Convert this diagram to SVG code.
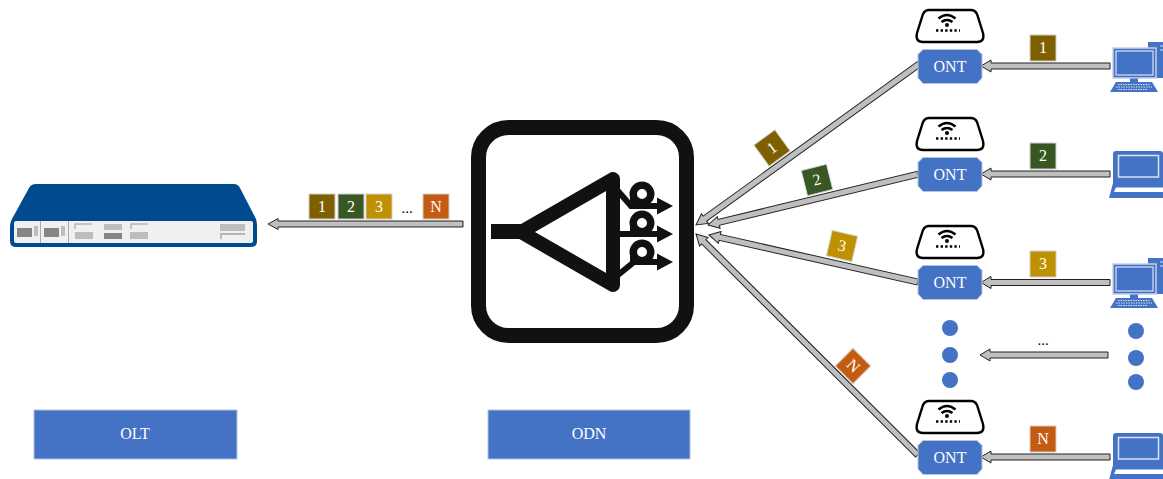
<svg xmlns="http://www.w3.org/2000/svg" width="1163" height="479" viewBox="0 0 1163 479">
<style>
text{font-family:"Liberation Serif","Times New Roman",serif;fill:#fff;text-anchor:middle}
.lab{font-size:16px}
.num{font-size:16px}
.dots{fill:#000;font-size:15px}
.box{fill:#4472c4;stroke:#b4c3e0;stroke-width:1}
.arr{fill:#bfbfbf;stroke:#222;stroke-width:1;stroke-linejoin:miter}
.sq{stroke:#d0d0d0;stroke-width:1}
.dot{fill:#4472c4}
.pc{fill:#4472c4}
.ln{fill:none;stroke:#d9e2f3;stroke-width:1.2}
.pg{fill:#bdbdbd}
.pd{fill:#858585}
.ring{fill:#fff;stroke:#111;stroke-width:7.5}
</style>
<defs>
<g id="router">
<path d="M929 10H971Q975 10 977 14L983 33Q985 42 977 42H923Q915 42 917 33L923 14Q925 10 929 10Z" fill="#fff" stroke="#000" stroke-width="2.4"/>
<path d="M938.500 18.500Q947 11.500 955.500 18.500M941.500 22Q947 18 952.500 22" fill="none" stroke="#000" stroke-width="2.600"/>
<circle cx="947" cy="25" r="2" fill="#000"/>
<path d="M936 30.500H960" fill="none" stroke="#000" stroke-width="2.600" stroke-dasharray="2.400 2.200"/>
</g>
<path id="ontbody" d="M923 49.500H977L982 54.500V78L977 83.500H923L918 78V54.500Z" fill="#4472c4" stroke="#b4c3e0" stroke-width="1"/>
<g id="desktop">
<path class="pc" d="M1148 42H1163V78H1148Z"/>
<path d="M1160 46H1163M1160 50H1163" stroke="#d9e2f3" stroke-width="1"/>
<rect x="1113" y="48" width="43" height="30" fill="#4472c4" stroke="#c5d0e6" stroke-width="1.500"/>
<rect x="1116" y="51" width="37" height="24" class="ln"/>
<rect x="1130" y="78.500" width="8" height="4" class="pc"/>
<path class="pc" d="M1116 82H1152L1158 92H1110Z"/>
<path d="M1118 84.500H1150M1116 87H1152M1118 89.500H1148" stroke="#d9e2f3" stroke-width="1" stroke-dasharray="1.500 1"/>
</g>
<g id="laptop">
<path class="pc" d="M1116 151H1160Q1163 151 1163 154V183H1113V154Q1113 151 1116 151Z"/>
<rect x="1118.500" y="155.500" width="40" height="21.500" fill="none" stroke="#d9e2f3" stroke-width="1.500"/>
<path class="pc" d="M1113 183H1163V198H1109Z"/>
<path d="M1116 187.500H1163V192H1114Z" fill="#fff"/>
</g>
</defs>

<g id="connectors">
<path class="arr" transform="translate(268 224)" d="M0 0L10-5.500V-3H195V3H10V5.500Z"/>
<path class="arr" transform="translate(696 225) rotate(-35.800)" d="M0 0L11-6V-3H275V3H11V6Z"/>
<path class="arr" transform="translate(708 225) rotate(-13.600)" d="M0 0L11-6V-3H216V3H11V6Z"/>
<path class="arr" transform="translate(709 235) rotate(12.700)" d="M0 0L11-6V-3H214V3H11V6Z"/>
<path class="arr" transform="translate(696 234) rotate(44.900)" d="M0 0L11-6V-3H313V3H11V6Z"/>
<path class="arr" transform="translate(981 66)" d="M0 0L10-6V-3H129V3H10V6Z"/>
<path class="arr" transform="translate(981 174)" d="M0 0L10-6V-3H129V3H10V6Z"/>
<path class="arr" transform="translate(981 282.500)" d="M0 0L10-6V-3H129V3H10V6Z"/>
<path class="arr" transform="translate(980 355)" d="M0 0L10-6V-3H128V3H10V6Z"/>
<path class="arr" transform="translate(981 457)" d="M0 0L10-6V-3H129V3H10V6Z"/>
</g>

<g id="olt">
<path d="M36 184H234Q238 184 240 188L256 219Q257 222 257 226V241Q257 247 251 247H16Q10 247 10 241V226Q10 222 12 219L29 188Q31 184 36 184Z" fill="#004a8f"/>
<rect x="14" y="221" width="239" height="22" rx="2" fill="#f0f0f0"/>
<path d="M40.500 221V243M68.500 221V243" stroke="#aaa" stroke-width="1"/>
<rect x="17" y="228" width="15" height="9" class="pd"/><rect x="34" y="226" width="4" height="10" class="pg"/>
<rect x="44" y="228" width="15" height="9" class="pd"/><rect x="61" y="226" width="4" height="10" class="pg"/>
<path d="M75 229V224H92" fill="none" stroke="#b5b5b5" stroke-width="1.500"/>
<rect x="75" y="232" width="18" height="7" class="pg"/>
<rect x="104" y="224" width="18" height="6" class="pg"/><rect x="104" y="233" width="18" height="6" class="pd"/>
<path d="M131 229V224H148" fill="none" stroke="#b5b5b5" stroke-width="1.500"/>
<rect x="130" y="232" width="18" height="7" class="pg"/>
<rect x="220" y="224" width="25" height="7" class="pg"/>
<path d="M221 239V234H245" fill="none" stroke="#b5b5b5" stroke-width="1.800"/>
</g>

<g id="odn">
<rect x="478.500" y="127.500" width="208" height="208" rx="30" fill="#fff" stroke="#111" stroke-width="15"/>
<path d="M491 231.500H522" stroke="#111" stroke-width="15"/>
<path d="M521 232L613 179V285Z" fill="#fff" stroke="#111" stroke-width="14" stroke-linejoin="round"/>
<path d="M618 191L631 206H660M618 234H660M618 275L634 262H660" fill="none" stroke="#111" stroke-width="6"/>
<path d="M633 194V206M633 223V234M633 252V262" fill="none" stroke="#111" stroke-width="6"/>
<path d="M657 197.500L673 206L657 214.500ZM657 225.500L673 234L657 242.500ZM657 253.500L673 262L657 270.500Z" fill="#111"/>
<circle class="ring" cx="642" cy="194" r="8.750"/>
<circle class="ring" cx="642" cy="223" r="8.750"/>
<circle class="ring" cx="642" cy="252" r="8.750"/>
</g>

<g id="olt-label"><rect class="box" x="34" y="410" width="203" height="49"/><text class="lab" x="135" y="439">OLT</text></g>
<g id="odn-label"><rect class="box" x="488" y="410" width="202" height="49"/><text class="lab" x="589" y="439">ODN</text></g>

<g id="onu-frames">
<g><rect class="sq" x="309" y="194" width="26" height="25" fill="#7f6000"/><text class="num" x="322" y="212">1</text></g>
<g><rect class="sq" x="338" y="194" width="26" height="25" fill="#385723"/><text class="num" x="351" y="212">2</text></g>
<g><rect class="sq" x="366" y="194" width="26" height="25" fill="#bf9000"/><text class="num" x="379" y="212">3</text></g>
<text class="dots" x="407" y="213">...</text>
<g><rect class="sq" x="423" y="194" width="26" height="25" fill="#c55a11"/><text class="num" x="436" y="212">N</text></g>
</g>

<g id="fan-frames">
<g transform="translate(772 148) rotate(-36)"><rect class="sq" x="-13" y="-13" width="26" height="26" fill="#7f6000"/><text class="num" y="5">1</text></g>
<g transform="translate(817 180) rotate(-14)"><rect class="sq" x="-13" y="-13" width="26" height="26" fill="#385723"/><text class="num" y="5">2</text></g>
<g transform="translate(842 246) rotate(13)"><rect class="sq" x="-13" y="-13" width="26" height="26" fill="#bf9000"/><text class="num" y="5">3</text></g>
<g transform="translate(853 366) rotate(45)"><rect class="sq" x="-12.500" y="-12.500" width="25" height="25" fill="#c55a11"/><text class="num" y="5">N</text></g>
</g>

<g id="ont-1"><use href="#router"/><use href="#ontbody"/><text class="lab" x="950" y="72">ONT</text></g>
<g id="ont-2"><use href="#router" y="108"/><use href="#ontbody" y="108"/><text class="lab" x="950" y="180">ONT</text></g>
<g id="ont-3"><use href="#router" y="216"/><use href="#ontbody" y="216"/><text class="lab" x="950" y="288">ONT</text></g>
<g id="ont-n"><use href="#router" y="391"/><use href="#ontbody" y="391"/><text class="lab" x="950" y="463">ONT</text></g>

<g id="ellipsis-ont"><circle class="dot" cx="950" cy="328" r="8"/><circle class="dot" cx="950" cy="355" r="8"/><circle class="dot" cx="950" cy="380" r="8"/></g>
<g id="ellipsis-pc"><circle class="dot" cx="1136" cy="331" r="8"/><circle class="dot" cx="1136" cy="358" r="8"/><circle class="dot" cx="1136" cy="382" r="8"/></g>
<text class="dots" x="1043" y="345">...</text>

<g id="up-1"><rect class="sq" x="1030" y="35" width="26" height="26" fill="#7f6000"/><text class="num" x="1043" y="53">1</text></g>
<g id="up-2"><rect class="sq" x="1030" y="143" width="26" height="26" fill="#385723"/><text class="num" x="1043" y="161">2</text></g>
<g id="up-3"><rect class="sq" x="1030" y="251" width="26" height="26" fill="#bf9000"/><text class="num" x="1043" y="269">3</text></g>
<g id="up-n"><rect class="sq" x="1030" y="426" width="26" height="26" fill="#c55a11"/><text class="num" x="1043" y="444">N</text></g>

<g id="pc-1"><use href="#desktop"/></g>
<g id="pc-2"><use href="#laptop"/></g>
<g id="pc-3"><use href="#desktop" y="216"/></g>
<g id="pc-n"><use href="#laptop" y="282"/></g>
</svg>
